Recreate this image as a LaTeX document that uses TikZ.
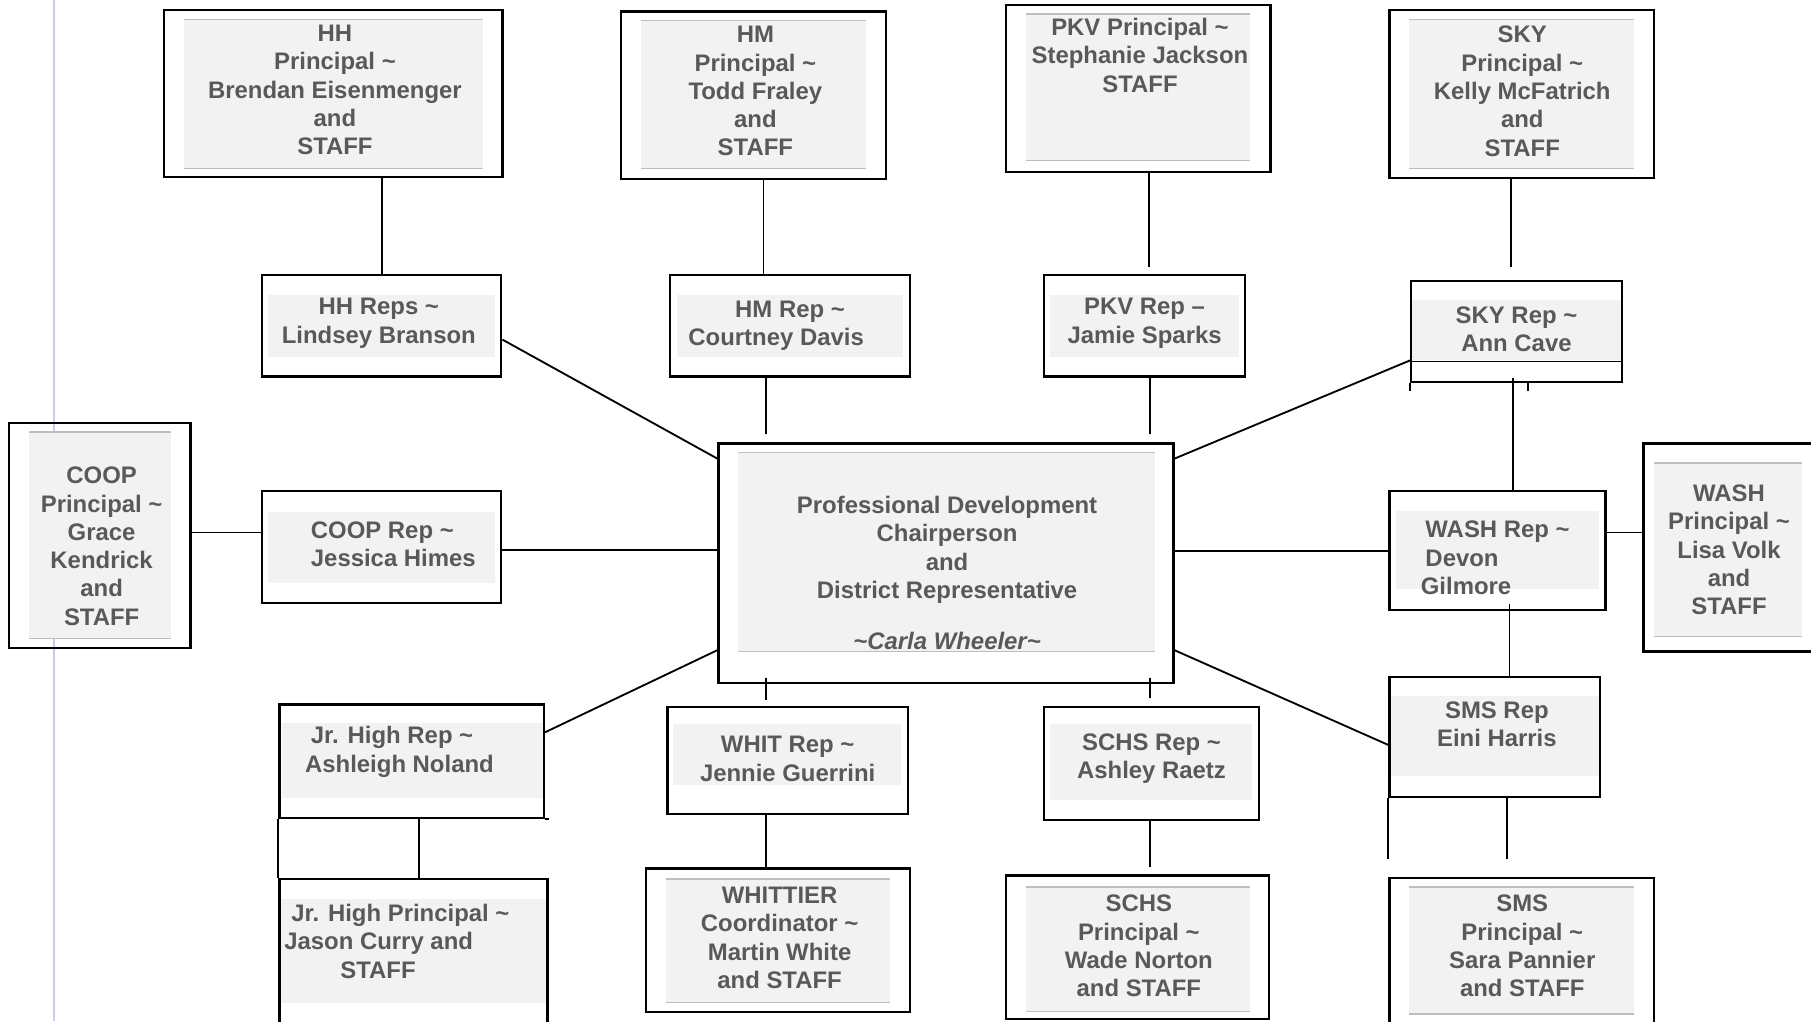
\documentclass[tikz,border=0pt]{standalone}
\usepackage{fontspec}
\setmainfont{Liberation Sans}
\definecolor{txtgray}{RGB}{89,89,89}
\definecolor{panelgray}{RGB}{242,242,242}
\definecolor{rulegray}{RGB}{190,190,190}
\definecolor{marginblue}{RGB}{204,204,232}
\tikzset{
  orgbox/.style={draw=black, line width=1.9pt, inner sep=0pt},
  panel/.style={fill=panelgray},
  panelrule/.style={draw=rulegray, line width=1.2pt},
  boxtext/.style={text=txtgray, font=\fontsize{20.7}{24.5}\selectfont\bfseries, align=center, inner sep=0pt},
  wire/.style={line width=1.6pt}
}
\begin{document}
\begin{tikzpicture}[x=1pt,y=-1pt]
    \useasboundingbox (0,0) rectangle (1568,884);
    \clip (0,0) rectangle (1568,884);
    \draw[marginblue, line width=1.5pt] (47,0) -- (47,884);

    % grey panels
    \fill[panel] (159,17) rectangle (418,146);
    \draw[panelrule] (159,17) -- (418,17) (159,146) -- (418,146);
    \fill[panel] (555,18) rectangle (750,146);
    \draw[panelrule] (555,18) -- (750,18) (555,146) -- (750,146);
    \fill[panel] (888,12) rectangle (1082,139);
    \draw[panelrule] (888,12) -- (1082,12) (888,139) -- (1082,139);
    \fill[panel] (1220,17) rectangle (1415,146);
    \draw[panelrule] (1220,17) -- (1415,17) (1220,146) -- (1415,146);
    \fill[panel] (232,255) rectangle (429,309);
    \fill[panel] (586,255) rectangle (782,309);
    \fill[panel] (909,255) rectangle (1073,309);
    \fill[panel] (1222,260) rectangle (1404,312);
    \fill[panel] (25,374) rectangle (148,553);
    \draw[panelrule] (25,374) -- (148,374) (25,553) -- (148,553);
    \fill[panel] (232,443) rectangle (429,505);
    \fill[panel] (639,392) rectangle (1000,564);
    \draw[panelrule] (639,392) -- (1000,392) (639,564) -- (1000,564);
    \fill[panel] (1209,442) rectangle (1384,510);
    \fill[panel] (1432,401) rectangle (1560,551);
    \draw[panelrule] (1432,401) -- (1560,401) (1432,551) -- (1560,551);
    \fill[panel] (1203,603) rectangle (1385,672);
    \fill[panel] (1220,768) rectangle (1415,878);
    \draw[panelrule] (1220,768) -- (1415,768) (1220,878) -- (1415,878);
    \fill[panel] (244,626) rectangle (470,691);
    \fill[panel] (243,778) rectangle (474,868);
    \fill[panel] (583,627) rectangle (780,680);
    \fill[panel] (577,761) rectangle (771,868);
    \draw[panelrule] (577,761) -- (771,761) (577,868) -- (771,868);
    \fill[panel] (909,627) rectangle (1084,693);
    \fill[panel] (888,768) rectangle (1082,876);
    \draw[panelrule] (888,768) -- (1082,768) (888,876) -- (1082,876);

    % boxes
    \node[orgbox, minimum width=293, minimum height=144] (hhp) at (288.5,81) {};
    \node[orgbox, minimum width=229, minimum height=145] (hmp) at (652.5,82.5) {};
    \node[orgbox, minimum width=229, minimum height=145] (pkvp) at (985.5,76.5) {};
    \node[orgbox, minimum width=229, minimum height=145] (skyp) at (1317.5,81.5) {};
    \node[orgbox, minimum width=207, minimum height=88] (hhrep) at (330.5,282) {};
    \node[orgbox, minimum width=208, minimum height=88] (hmrep) at (684,282) {};
    \node[orgbox, minimum width=174, minimum height=88] (pkvrep) at (991,282) {};
    \node[orgbox, minimum width=182, minimum height=88] (skyrep) at (1313,287) {};
    \node[orgbox, minimum width=157, minimum height=195] (coopp) at (86.5,463.5) {};
    \node[orgbox, minimum width=207, minimum height=97] (cooprep) at (330.5,473.5) {};
    \node[orgbox, minimum width=394, minimum height=207] (center) at (819,487.5) {};
    \node[orgbox, minimum width=187, minimum height=103] (washrep) at (1296.5,476.5) {};
    \node[orgbox, minimum width=167, minimum height=180] (washp) at (1506.5,474) {};
    \node[orgbox, minimum width=182, minimum height=104] (smsrep) at (1294,638) {};
    \node[orgbox, minimum width=229, minimum height=140] (smsp) at (1317.5,830) {};
    \node[orgbox, minimum width=229, minimum height=98] (jhrep) at (356.5,659) {};
    \node[orgbox, minimum width=232, minimum height=139] (jhp) at (358,830.5) {};
    \node[orgbox, minimum width=208, minimum height=93] (whitrep) at (682,658.5) {};
    \node[orgbox, minimum width=229, minimum height=124] (whitp) at (673.5,814) {};
    \node[orgbox, minimum width=186, minimum height=98] (schsrep) at (997,661) {};
    \node[orgbox, minimum width=228, minimum height=124] (schsp) at (985,820) {};

    % texts
    \node[boxtext] (hhptext) at (290,78) {HH\\Principal \textasciitilde\\Brendan Eisenmenger\\and\\STAFF};
    \node[boxtext] (hmptext) at (654,79) {HM\\Principal \textasciitilde\\Todd Fraley\\and\\STAFF};
    \node[boxtext] (pkvptext) at (987,48) {PKV Principal \textasciitilde\\Stephanie Jackson\\STAFF};
    \node[boxtext] (skyptext) at (1318,79) {SKY\\Principal \textasciitilde\\Kelly McFatrich\\and\\STAFF};
    \node[boxtext] (hhreptext) at (328,280) {HH Reps \textasciitilde\\Lindsey Branson};
    \node[boxtext] (hmreptext) at (684,282) {HM Rep \textasciitilde\\Courtney Davis\hspace*{24pt}};
    \node[boxtext] (pkvreptext) at (991,280) {PKV Rep \textendash\\Jamie Sparks};
    \node[boxtext] (skyreptext) at (1313,285) {SKY Rep \textasciitilde\\Ann Cave};
    \node[boxtext] (cooptext) at (88,473) {COOP\\Principal \textasciitilde\\Grace\\Kendrick\\and\\STAFF};
    \node[boxtext, align=left, anchor=west] (coopreptext) at (269,471) {COOP Rep \textasciitilde\\Jessica Himes};
    \node[boxtext] (centertext) at (820,496) {Professional Development\\Chairperson\\and\\District Representative\\[19.5pt]{\itshape\textasciitilde Carla Wheeler\textasciitilde}};
    \node[boxtext, align=left, anchor=west] (washreptext) at (1234,483) {WASH Rep \textasciitilde\\Devon\\\hspace*{-4pt}Gilmore};
    \node[boxtext] (washptext) at (1497,476) {WASH\\Principal \textasciitilde\\Lisa Volk\\and\\STAFF};
    \node[boxtext] (smsreptext) at (1296,627) {SMS Rep\\Eini Harris};
    \node[boxtext] (smsptext) at (1318,819) {SMS\\Principal \textasciitilde\\Sara Pannier\\and STAFF};
    \node[boxtext, align=left, anchor=west] (jhreptext) at (264,651) {\hspace*{5pt}Jr. High Rep \textasciitilde\\Ashleigh Noland};
    \node[boxtext, align=left, anchor=west] (jhptext) at (246,815) {\hspace*{6pt}Jr. High Principal \textasciitilde\\Jason Curry and\\\hspace*{48.5pt}STAFF};
    \node[boxtext] (whitreptext) at (682,657) {WHIT Rep \textasciitilde\\Jennie Guerrini};
    \node[boxtext] (whitptext) at (675,812) {WHITTIER\\Coordinator \textasciitilde\\Martin White\\and STAFF};
    \node[boxtext] (schsreptext) at (997,657) {SCHS Rep \textasciitilde\\Ashley Raetz};
    \node[boxtext] (schsptext) at (986,819) {SCHS\\Principal \textasciitilde\\Wade Norton\\and STAFF};

    % odd bits under the SKY rep box
    \draw[wire] ([yshift=19pt]skyrep.south west) -- ([yshift=19pt]skyrep.south east);
    \draw[wire] (skyrep.south west) -- ++(0,7);
    \draw[wire] ([xshift=10pt]skyrep.south) -- ++(0,7);

    % principals to reps
    \draw[wire] (hhrep.north |- hhp.south) -- (hhrep.north);
    \draw[wire] ([xshift=8.5pt]hmp.south) -- ([xshift=8.5pt]hmp.south |- hmrep.north);
    \draw[wire,shorten >=6pt] ([xshift=9.5pt]pkvp.south) -- ([xshift=9.5pt]pkvp.south |- pkvrep.north);
    \draw[wire,shorten >=11pt] ([xshift=-9.5pt]skyp.south) -- ([xshift=-9.5pt]skyp.south |- skyrep.north);
    \draw[wire] ([yshift=12.5pt]cooprep.west) -- ([yshift=12.5pt]cooprep.west -| coopp.east);
    \draw[wire] ([yshift=15.5pt]washrep.east) -- ([yshift=15.5pt]washrep.east -| washp.west);
    \draw[wire] ([xshift=6.5pt]jhrep.south) -- ([xshift=6.5pt]jhrep.south |- jhp.north);
    \draw[wire] (jhrep.south west) -- (jhp.north west);
    \draw[wire] (jhrep.south east) -- ++(3,0);
    \draw[wire] ([xshift=-19pt]whitrep.south) -- ([xshift=-19pt]whitrep.south |- whitp.north);
    \draw[wire,shorten >=6pt] ([xshift=-1.5pt]schsrep.south) -- ([xshift=-1.5pt]schsrep.south |- schsp.north);
    \draw[wire,shorten >=15pt] ([xshift=11pt]smsrep.south) -- ([xshift=11pt]smsrep.south |- smsp.north);
    \draw[wire,shorten >=15pt] (smsrep.south west) -- (smsrep.south west |- smsp.north);

    % reps to the chair
    \draw[wire] ([yshift=-12pt]hhrep.east) -- ([yshift=-14pt]center.north west);
    \draw[wire,shorten >=7pt] ([xshift=-21pt]hmrep.south) -- ([xshift=-21pt]hmrep.south |- center.north);
    \draw[wire,shorten >=7pt] ([xshift=4.5pt]pkvrep.south) -- ([xshift=4.5pt]pkvrep.south |- center.north);
    \draw[wire] ([yshift=20pt]skyrep.south west) -- ([yshift=-14pt]center.north east);
    \draw[wire] ([yshift=-3pt]cooprep.east) -- ([yshift=-3pt]cooprep.east -| center.west);
    \draw[wire] ([yshift=10.5pt]center.east) -- ([yshift=10.5pt]center.east -| washrep.west);
    \draw[wire] ([shift={(-3pt,5pt)}]skyrep.south) -- ([xshift=-3pt]skyrep.south |- washrep.north);
    \draw[wire] ([shift={(10.5pt,6pt)}]washrep.south) -- ([xshift=10.5pt]washrep.south |- smsrep.north);
    \draw[wire] ([yshift=29pt]center.south west) -- ([yshift=25pt]jhrep.east);
    \draw[wire] ([yshift=29pt]center.south east) -- ([yshift=-7pt]smsrep.west);
    \draw[wire,shorten >=5pt] ([shift={(-156pt,5pt)}]center.south) -- ([xshift=-156pt]center.south |- whitrep.north);
    \draw[wire,shorten >=7pt] ([shift={(176.5pt,5pt)}]center.south) -- ([xshift=176.5pt]center.south |- schsrep.north);
\end{tikzpicture}
\end{document}
